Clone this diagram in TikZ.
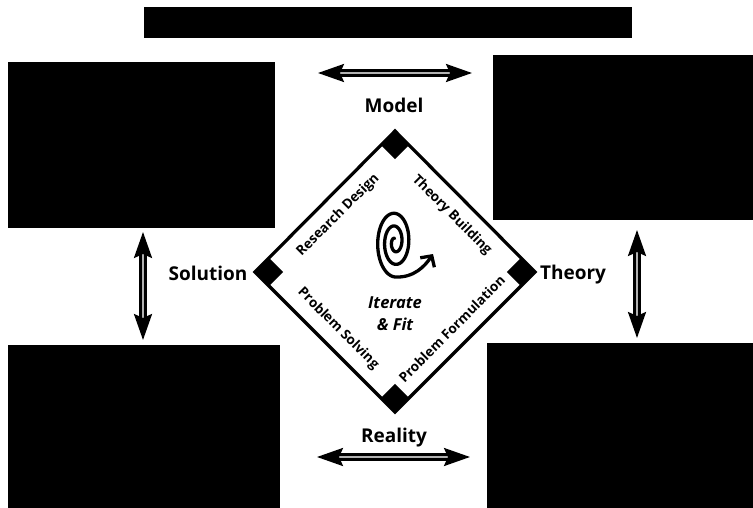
\documentclass[tikz,border=0pt]{standalone}
\usepackage{fontspec}
\setmainfont{Open Sans}
\usetikzlibrary{arrows.meta}
\begin{document}
\begin{tikzpicture}[x=1pt,y=-1pt,
  lbl/.style={font=\bfseries\fontsize{19}{21}\selectfont, inner sep=0pt, anchor=base},
  edgelbl/.style={font=\bfseries\fontsize{13.5}{15}\selectfont, inner sep=0pt},
  dbl/.style={line width=2.6pt, double=gray!60, double distance=2.8pt,
    {Stealth[length=26pt,width=18pt,inset=4pt]}-{Stealth[length=26pt,width=18pt,inset=4pt]}},
  corner/.style={fill=black, minimum size=20pt, inner sep=0pt, rotate=45, draw=none},
  redact/.style={fill=black}
]
\useasboundingbox (0,0) rectangle (753,508);
% redacted boxes
\fill[redact] (144,7) rectangle (632,38);
\fill[redact] (8,62) rectangle (275,228);
\fill[redact] (493,55) rectangle (753,220);
\fill[redact] (8,345) rectangle (280,508);
\fill[redact] (487,343) rectangle (753,508);
% diamond
\coordinate (T) at (395,131);
\coordinate (R) at (535,272);
\coordinate (B) at (395,412);
\coordinate (L) at (255,272);
\draw[line width=3.2pt, line join=miter] (T) -- (R) -- (B) -- (L) -- cycle;
\node[corner] (cT) at (395,145) {};
\node[corner] (cR) at (521,272) {};
\node[corner] (cB) at (395,398) {};
\node[corner] (cL) at (269,272) {};
% outer labels
\node[lbl] (model) at (394,113) {Model};
\node[lbl] (solution) at (208,280) {Solution};
\node[lbl] (theory) at (573,279) {Theory};
\node[lbl] (reality) at (394,442) {Reality};
% edge labels
\node[edgelbl, rotate=45] (rd) at (338.2,215.2) {Research Design};
\node[edgelbl, rotate=-45] (tb) at (451.8,215.2) {Theory Building};
\node[edgelbl, rotate=-45] (ps) at (338.2,328.8) {Problem Solving};
\node[edgelbl, rotate=45] (pf) at (451.8,328.8) {Problem Formulation};
% centre
\node[font=\bfseries\itshape\fontsize{16.5}{22}\selectfont, align=center, inner sep=0pt] (it) at (395,314) {Iterate\\\& Fit};
\draw[line width=3.3pt, line cap=round, -{Straight Barb[length=8pt,width=17pt]}]
  plot[domain=100:990, samples=160, smooth, variable=\t] ({395+19*(\t/990)*cos(\t)}, {242-35*(\t/990)*sin(\t)})
  .. controls (414,278) and (425,266) .. (433,254);
% double arrows
\coordinate (a1) at (318,73); \coordinate (a2) at (472,73);
\coordinate (b1) at (317,457); \coordinate (b2) at (470,457);
\coordinate (l1) at (143,232); \coordinate (l2) at (143,340);
\coordinate (r1) at (637,230); \coordinate (r2) at (637,338);
\draw[dbl] (a1) -- (a2);
\draw[dbl] (b1) -- (b2);
\draw[dbl] (l1) -- (l2);
\draw[dbl] (r1) -- (r2);
\end{tikzpicture}
\end{document}
